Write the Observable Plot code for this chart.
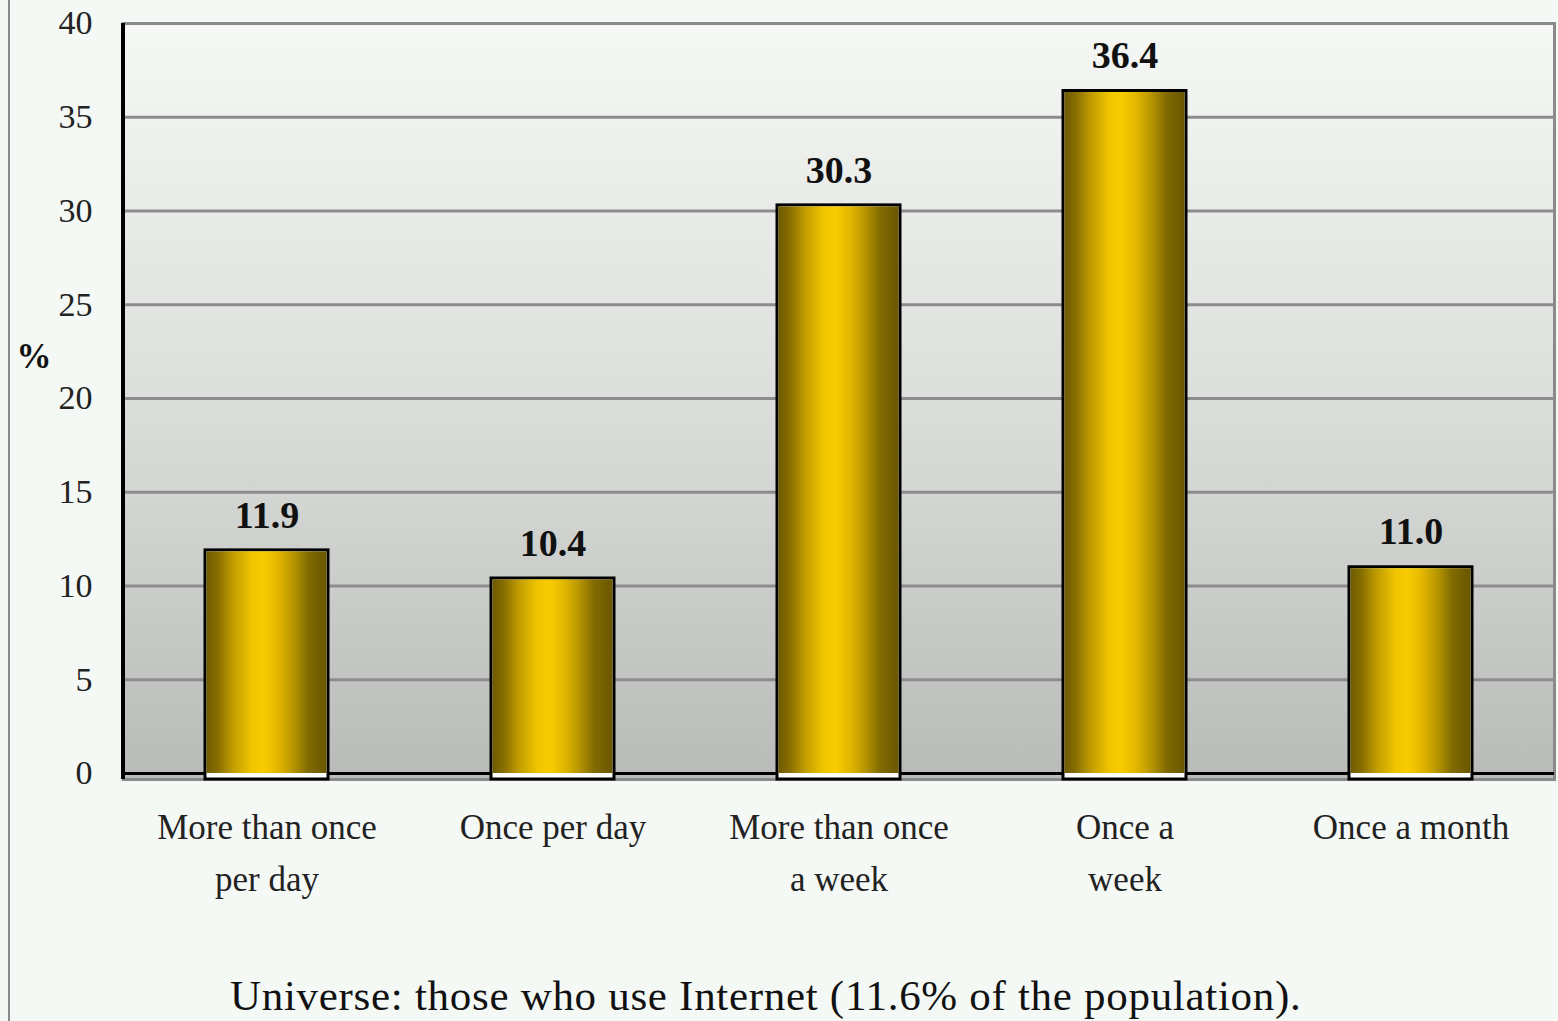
<!DOCTYPE html>
<html>
<head>
<meta charset="utf-8">
<script src="https://cdn.jsdelivr.net/npm/d3@7"></script>
<script src="https://cdn.jsdelivr.net/npm/@observablehq/plot@0.6"></script>
<style>
  html, body { margin: 0; padding: 0; background: #f5f9f6; }
  #wrap { position: relative; width: 1558px; height: 1021px; overflow: hidden; }
  #wrap::before { content: ""; position: absolute; left: 8px; top: 0; bottom: 0; width: 2px; background: #8a8a8a; }
  #caption { font-family: "Liberation Serif", "Times New Roman", "DejaVu Serif", serif; font-size: 43px; line-height: 44px; letter-spacing: 0.7px; color: #111; padding-left: 230px; margin-top: 19px; white-space: nowrap; }
  svg { display: block; }
  svg text { font-family: "Liberation Serif", "Times New Roman", "DejaVu Serif", serif; }
</style>
</head>
<body>
<div id="wrap">
  <div id="chart"></div>
  <div id="caption">Universe: those who use Internet (11.6% of the population).</div>
</div>
<script>
// Frequency of Internet use (% of users)
const categories = ["More than once\nper day", "Once per day", "More than once\na week", "Once a\nweek", "Once a month"];
const values = [11.9, 10.4, 30.3, 36.4, 11.0];
const yTicks = [0, 5, 10, 15, 20, 25, 30, 35, 40];

const data = categories.map((c, i) => ({category: c, value: values[i]}));

const serif = "'Liberation Serif', 'Times New Roman', 'DejaVu Serif', serif";

const chart = Plot.plot({
  width: 1558,
  height: 955,
  marginLeft: 123,
  marginRight: 4,
  marginTop: 23,
  marginBottom: 182,
  style: {fontFamily: serif, background: "transparent", color: "#111"},
  x: {domain: categories, paddingInner: 0.57, paddingOuter: 0.285, label: null},
  y: {domain: [0, 40], ticks: yTicks, label: null},
  marks: [
    // plot area with vertical shading and gray border
    Plot.frame({fill: "url(#plotBg)", stroke: "#8a8a8a", strokeWidth: 3, insetBottom: -6}),
    // horizontal gridlines
    Plot.ruleY(yTicks.filter(d => d > 0 && d < 40), {stroke: "#8c8c8c", strokeWidth: 3}),
    // baseline
    Plot.ruleY([0], {stroke: "#000", strokeWidth: 3}),
    // bar outlines (extend a little below the baseline)
    Plot.barY(data, {x: "category", y: "value", fill: "#fff", stroke: "#000", strokeWidth: 3, insetBottom: -6}),
    // cylinder-shaded bar bodies
    Plot.barY(data, {x: "category", y: "value", fill: "url(#goldBar)", insetLeft: 1.5, insetRight: 1.5, insetTop: 1.5}),
    // value labels
    Plot.text(data, {x: "category", y: "value", text: d => d.value.toFixed(1), dy: -35, fontSize: 38, fontWeight: "bold", fill: "#111", letterSpacing: 4, fontFamily: serif}),
    // y axis
    Plot.axisY({ticks: yTicks, tickSize: 0, tickPadding: 31, fontSize: 34, letterSpacing: 1, fill: "#222", label: null, fontFamily: serif}),
    // x axis with two-line category names
    Plot.axisX({tickSize: 0, tickPadding: 28, fontSize: 35, letterSpacing: 1.8, lineHeight: 1.5, fill: "#222", label: null, fontFamily: serif}),
    // unit label
    Plot.text(["%"], {frameAnchor: "left", dx: -107, dy: -42, textAnchor: "start", fontSize: 35, fontWeight: "bold", fill: "#111", fontFamily: serif})
  ]
});

const svg = d3.select(chart);

// black left axis line, placed with the plot's own scales
const xs = chart.scale("x"), ys = chart.scale("y");
svg.append("line")
  .attr("x1", xs.range[0]).attr("x2", xs.range[0])
  .attr("y1", ys.apply(40)).attr("y2", ys.apply(0) + 6)
  .attr("stroke", "#000").attr("stroke-width", 4);

// gradients used by the frame and bars
const defs = svg.insert("defs", ":first-child");
const bg = defs.append("linearGradient").attr("id", "plotBg").attr("x1", 0).attr("y1", 0).attr("x2", 0).attr("y2", 1);
bg.append("stop").attr("offset", 0).attr("stop-color", "#f6f8f6");
bg.append("stop").attr("offset", 0.5).attr("stop-color", "#dcdedc");
bg.append("stop").attr("offset", 1).attr("stop-color", "#b8bbb8");

const gold = defs.append("linearGradient").attr("id", "goldBar").attr("x1", 0).attr("y1", 0).attr("x2", 1).attr("y2", 0);
[
  [0, "#6e5a00"], [0.1, "#8a7000"], [0.22, "#c09c00"], [0.38, "#f2c600"],
  [0.48, "#f8cc00"], [0.6, "#e2b600"], [0.72, "#b89600"], [0.85, "#806a00"], [1, "#6a5700"]
].forEach(([o, c]) => gold.append("stop").attr("offset", o).attr("stop-color", c));

document.getElementById("chart").appendChild(chart);
</script>
</body>
</html>
